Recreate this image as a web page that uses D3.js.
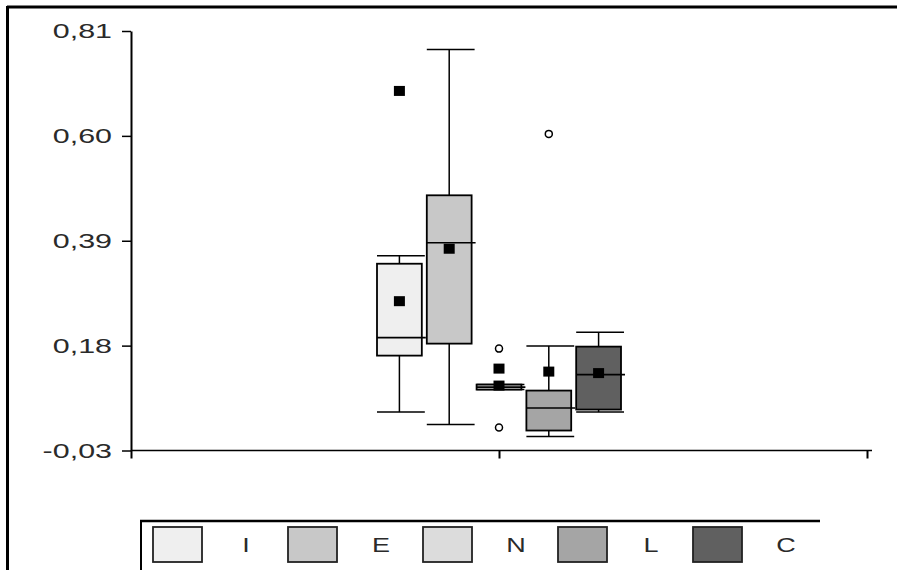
<!DOCTYPE html>
<html>
<head>
<meta charset="utf-8">
<script src="https://cdn.jsdelivr.net/npm/d3@7"></script>
<style>
  body { margin: 0; background: #fff; }
  svg { display: block; font-family: "Liberation Sans", Arial, sans-serif; }
  .axis path, .axis line { stroke: #000; }
  .axis text { fill: #2a2a2a; font-size: 21px; }
</style>
</head>
<body>
<svg id="chart" width="897" height="570"></svg>
<script>
// box plot summary
var categories = ['I', 'E', 'N', 'L', 'C'];
var whiskerLow  = [0.047, 0.022, 0.092, -0.002, 0.047];
var q1          = [0.160, 0.184, 0.092, 0.010, 0.052];
var median      = [0.196, 0.386, 0.097, 0.055, 0.122];
var q3          = [0.344, 0.481, 0.102, 0.090, 0.178];
var whiskerHigh = [0.360, 0.773, 0.102, 0.179, 0.207];
var means       = [0.269, 0.374, 0.100, 0.128, 0.125];
var outliers    = [['N', 0.174], ['N', 0.016], ['L', 0.604]];
var extremes    = [['I', 0.690], ['N', 0.134]];
var fills       = ['#efefef', '#c8c8c8', '#dcdcdc', '#a5a5a5', '#606060'];
var yTicks      = [-0.03, 0.18, 0.39, 0.60, 0.81];

var svg = d3.select('#chart');
var comma = d3.formatLocale({decimal: ',', thousands: '.', grouping: [3], currency: ['', ''], minus: '-'}).format('.2f');

var x = d3.scaleLinear().domain([0, 2]).range([131, 867]);
var y = d3.scaleLinear().domain([-0.03, 0.81]).range([450.5, 31]);
var band = d3.scaleBand().domain(categories)
    .range([x(1) - 122, x(1) + 122])
    .paddingInner(0.1);
var bw = band.bandwidth();
var color = d3.scaleOrdinal().domain(categories).range(fills);

// outer frame (top and left only)
svg.append('line').attr('x1', 7).attr('x2', 897).attr('y1', 7).attr('y2', 7)
    .attr('stroke', '#000').attr('stroke-width', 3);
svg.append('line').attr('x1', 7.5).attr('x2', 7.5).attr('y1', 6).attr('y2', 570)
    .attr('stroke', '#000').attr('stroke-width', 3);

// axes
svg.append('g').attr('class', 'axis')
    .attr('transform', 'translate(0,' + y(-0.03) + ')')
    .call(d3.axisBottom(x).tickValues([0, 1, 2]).tickSize(8).tickSizeOuter(0).tickFormat(''))
    .call(function(g) {
        g.select('.domain').attr('stroke-width', 1.5).attr('d', 'M' + x(0) + ',0H' + (x(2) + 5));
        g.selectAll('.tick line').attr('stroke-width', 2);
    });

svg.append('g').attr('class', 'axis')
    .attr('transform', 'translate(' + x(0) + ',0)')
    .call(d3.axisLeft(y).tickValues(yTicks).tickSize(9).tickSizeOuter(0).tickFormat(comma))
    .call(function(g) {
        g.select('.domain').attr('stroke-width', 2);
        g.selectAll('.tick line').attr('stroke-width', 1.5);
        g.selectAll('.tick text')
            .attr('x', 0)
            .attr('transform', 'translate(-19,0) scale(1.45,1)');
    });

// boxes
var boxes = svg.append('g').selectAll('g')
    .data(categories)
    .join('g')
    .attr('transform', function(d) { return 'translate(' + band(d) + ',0)'; });

boxes.append('line')
    .attr('x1', bw / 2).attr('x2', bw / 2)
    .attr('y1', function(d, i) { return y(whiskerHigh[i]); })
    .attr('y2', function(d, i) { return y(whiskerLow[i]); })
    .attr('stroke', '#000').attr('stroke-width', 1.5);

[whiskerHigh, whiskerLow].forEach(function(arr) {
    boxes.append('line')
        .attr('x1', 0).attr('x2', bw + 3)
        .attr('y1', function(d, i) { return y(arr[i]); })
        .attr('y2', function(d, i) { return y(arr[i]); })
        .attr('stroke', '#000').attr('stroke-width', 1.5);
});

boxes.append('rect')
    .attr('x', 0).attr('width', bw)
    .attr('y', function(d, i) { return y(q3[i]); })
    .attr('height', function(d, i) { return Math.max(3, y(q1[i]) - y(q3[i])); })
    .attr('fill', function(d) { return color(d); })
    .attr('stroke', '#000').attr('stroke-width', 1.8);

boxes.append('line')
    .attr('x1', 0).attr('x2', bw + 4)
    .attr('y1', function(d, i) { return y(median[i]); })
    .attr('y2', function(d, i) { return y(median[i]); })
    .attr('stroke', '#000').attr('stroke-width', 1.6);

boxes.append('rect')
    .attr('x', bw / 2 - 5.5).attr('width', 11)
    .attr('y', function(d, i) { return y(means[i]) - 5; })
    .attr('height', 10)
    .attr('fill', '#000');

svg.append('g').selectAll('rect')
    .data(extremes)
    .join('rect')
    .attr('x', function(d) { return band(d[0]) + bw / 2 - 5.5; })
    .attr('y', function(d) { return y(d[1]) - 5; })
    .attr('width', 11).attr('height', 10)
    .attr('fill', '#000');

svg.append('g').selectAll('circle')
    .data(outliers)
    .join('circle')
    .attr('cx', function(d) { return band(d[0]) + bw / 2; })
    .attr('cy', function(d) { return y(d[1]); })
    .attr('r', 3.5)
    .attr('fill', '#fff').attr('stroke', '#000').attr('stroke-width', 1.5);

// legend
var legend = svg.append('g');
legend.append('line').attr('x1', 140).attr('x2', 820).attr('y1', 521).attr('y2', 521)
    .attr('stroke', '#000').attr('stroke-width', 2.5);
legend.append('line').attr('x1', 141).attr('x2', 141).attr('y1', 520).attr('y2', 570)
    .attr('stroke', '#000').attr('stroke-width', 2);

var items = legend.selectAll('g.item')
    .data(categories)
    .join('g')
    .attr('class', 'item')
    .attr('transform', function(d, i) { return 'translate(' + (153 + i * 135) + ',527)'; });

items.append('rect')
    .attr('width', 49).attr('height', 35)
    .attr('fill', function(d) { return color(d); })
    .attr('stroke', '#222').attr('stroke-width', 1.8);

items.append('text')
    .attr('transform', 'translate(93,18) scale(1.35,1)')
    .attr('text-anchor', 'middle')
    .attr('dy', '0.35em')
    .attr('fill', '#2a2a2a')
    .attr('font-size', 20)
    .text(function(d) { return d; });
</script>
</body>
</html>
